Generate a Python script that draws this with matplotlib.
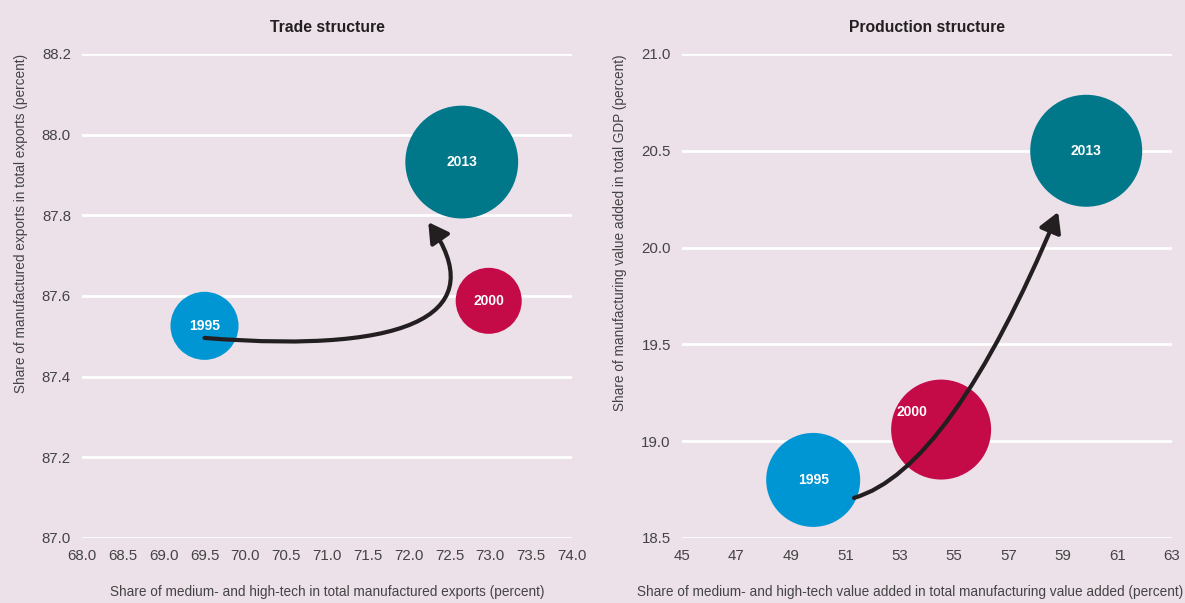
import matplotlib
matplotlib.use('Agg')
import matplotlib.pyplot as plt
from matplotlib.path import Path
from matplotlib.patches import FancyArrowPatch

plt.rcParams['font.family'] = ['Liberation Sans', 'DejaVu Sans']

years = ['1995', '2000', '2013']
colors = ['#0095D3', '#C50B47', '#00788A']

# Trade structure
trade_x = [69.5, 72.98, 72.65]
trade_y = [87.526, 87.588, 87.932]
trade_size = [2400, 2260, 6600]

# Production structure
prod_x = [49.82, 54.52, 59.85]
prod_y = [18.80, 19.06, 20.50]
prod_size = [4580, 5180, 6500]
# label offsets (points) for production panel
prod_offset = [(0, 0), (-21, 13), (0, 0)]

trade_xticks = [68.0 + 0.5 * i for i in range(13)]
trade_yticks = [87.0, 87.2, 87.4, 87.6, 87.8, 88.0, 88.2]
prod_xticks = list(range(45, 64, 2))
prod_yticks = [18.5, 19.0, 19.5, 20.0, 20.5, 21.0]

bg = '#ECE0E9'
txt = '#444444'

fig = plt.figure(figsize=(11.85, 6.03), dpi=100, facecolor=bg)
ax1 = fig.add_axes([0.0692, 0.1078, 0.4135, 0.8027])
ax2 = fig.add_axes([0.5755, 0.1078, 0.4135, 0.8027])


def style(ax, xticks, yticks, xfmt, yfmt, title, xlabel, ylabel, xlab_x):
    ax.set_facecolor(bg)
    for s in ax.spines.values():
        s.set_visible(False)
    ax.set_xlim(xticks[0], xticks[-1])
    ax.set_ylim(yticks[0], yticks[-1])
    ax.set_xticks(xticks)
    ax.set_yticks(yticks)
    ax.set_xticklabels([xfmt.format(v) for v in xticks])
    ax.set_yticklabels([yfmt.format(v) for v in yticks])
    ax.tick_params(length=0, labelsize=10.8, colors=txt)
    ax.tick_params(axis='x', pad=8)
    ax.tick_params(axis='y', pad=8)
    ax.grid(axis='y', color='white', linewidth=2)
    ax.set_axisbelow(True)
    ax.set_title(title, fontsize=11.3, fontweight='bold', color='#231F20', pad=16)
    ax.set_xlabel(xlabel, fontsize=9.8, color=txt, labelpad=16)
    ax.xaxis.label.set_x(xlab_x)
    ax.set_ylabel(ylabel, fontsize=9.8, color=txt, labelpad=10, loc='top')


style(ax1, trade_xticks, trade_yticks, '{:.1f}', '{:.1f}', 'Trade structure',
      'Share of medium- and high-tech in total manufactured exports (percent)',
      'Share of manufactured exports in total exports (percent)', 0.5)
style(ax2, prod_xticks, prod_yticks, '{:d}', '{:.1f}', 'Production structure',
      'Share of medium- and high-tech value added in total manufacturing value added (percent)',
      'Share of manufacturing value added in total GDP (percent)', 0.465)

for ax, xs, ys, ss, offs in [(ax1, trade_x, trade_y, trade_size, [(0, 0)] * 3),
                             (ax2, prod_x, prod_y, prod_size, prod_offset)]:
    ax.scatter(xs, ys, s=ss, c=colors, linewidths=0, zorder=3, clip_on=False)
    for x, y, yr, off in zip(xs, ys, years, offs):
        ax.annotate(yr, (x, y), xytext=off, textcoords='offset points',
                    ha='center', va='center', color='white', fontsize=10,
                    fontweight='bold', zorder=5)

# curved arrows (data coordinates of bezier control points)
arrow1 = Path([(69.5, 87.496), (72.14, 87.454), (72.99, 87.565), (72.24, 87.783)],
              [Path.MOVETO, Path.CURVE4, Path.CURVE4, Path.CURVE4])
arrow2 = Path([(51.32, 18.707), (54.85, 18.851), (58.82, 20.184)],
              [Path.MOVETO, Path.CURVE3, Path.CURVE3])
for ax, p in [(ax1, arrow1), (ax2, arrow2)]:
    a = FancyArrowPatch(path=p, arrowstyle='-|>,head_length=0.7,head_width=0.4',
                        mutation_scale=17, linewidth=3, color='#231F20',
                        zorder=4, shrinkA=0, shrinkB=0)
    ax.add_patch(a)

fig.savefig('out.png', dpi=100, facecolor=bg)
